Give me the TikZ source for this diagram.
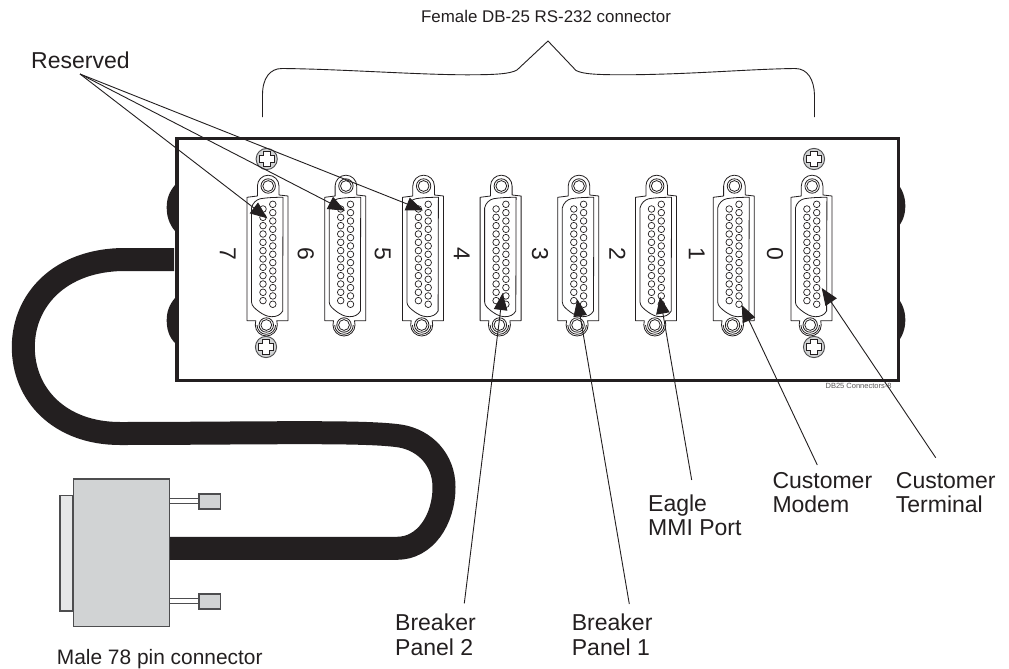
\documentclass[tikz,border=0pt]{standalone}
\usepackage{fontspec}
\setmainfont{Liberation Sans}
\usetikzlibrary{arrows.meta}
\definecolor{ink}{HTML}{231F20}
\definecolor{metal}{HTML}{D1D3D4}
\definecolor{plate}{HTML}{E6E7E8}
\definecolor{edge}{HTML}{4D4D4F}
\tikzset{
  lbl/.style={anchor=base west,inner sep=0pt,text=ink,align=left,font=\fontsize{23}{24.3}\selectfont},
  toplbl/.style={inner sep=0pt,text=ink,font=\fontsize{16.9}{18}\selectfont},
  malelabel/.style={inner sep=0pt,text=ink,font=\fontsize{20.9}{22}\selectfont},
  num/.style={inner sep=0pt,text=ink,rotate=-90,font=\fontsize{23}{24}\selectfont},
  thin line/.style={draw=ink,line width=0.9pt},
  leader/.style={draw=ink,line width=0.9pt,-{Triangle[length=17pt,width=13.5pt]}},
  part/.style={draw=ink,line width=0.8pt},
  pin/.style={draw=ink,line width=0.7pt,fill=white},
  cable/.style={draw=ink,line width=23pt},
  bump/.style={fill=ink},
  metalbox/.style={draw=edge,line width=1.2pt,fill=metal},
  screwhead/.style={draw=edge,line width=0.9pt,fill=metal},
  cross/.style={draw=ink,line width=0.7pt,fill=white}
}
\newcommand{\screwat}[2]{%
  \begin{scope}[shift={(#1,#2)}]
    \draw[screwhead] (0,0) circle[radius=10.6pt];
    \draw[cross] (-3.8,-7.6)--(3.8,-7.6)--(3.8,-3.8)--(7.6,-3.8)--(7.6,3.8)--(3.8,3.8)--(3.8,7.6)--(-3.8,7.6)--(-3.8,3.8)--(-7.6,3.8)--(-7.6,-3.8)--(-3.8,-3.8)--cycle;
  \end{scope}}
\begin{document}
\begin{tikzpicture}[x=1pt,y=-1pt]
\useasboundingbox (0,0) rectangle (1009,669);
\fill[white] (0,0) rectangle (1009,669);

% cable
\draw[cable] (174,259.5) -- (125,259.5) .. controls (60,259.5) and (23.3,300) .. (23.3,347)
  .. controls (23.3,395) and (60,433.5) .. (120,433.5)
  .. controls (180,433.5) and (250,432.7) .. (300,432.7)
  .. controls (340,432.7) and (380,433) .. (400,436)
  .. controls (425,440) and (444,460) .. (444,487)
  .. controls (444,520) and (425,548.3) .. (397,548.3) -- (165,548.3);

% bumps on the box sides
\fill[bump] (175,185) .. controls (169,192) and (166.7,199) .. (166.7,207.5) .. controls (166.7,216) and (169,224) .. (175,231) -- cycle;
\fill[bump] (175,298) .. controls (169,305) and (166.7,312) .. (166.7,320.5) .. controls (166.7,329) and (169,337) .. (175,343) -- cycle;
\fill[bump] (897,183) .. controls (903,190) and (905.3,198) .. (905.3,206) .. controls (905.3,214) and (903,222) .. (897,228) -- cycle;
\fill[bump] (897,297) .. controls (903,304) and (905.3,312) .. (905.3,320) .. controls (905.3,328) and (903,336) .. (897,343) -- cycle;

% enclosure
\node[draw=ink,line width=3.6pt,fill=white,inner sep=0pt,minimum width=721.5pt,minimum height=242pt,anchor=north west] (box) at (175,136.5) {};

% connectors
\foreach \cx in {267.5,345.2,422.9,500.6,578.3,656,733.7,811.4}{
  \begin{scope}[shift={(\cx,0)}]
    \draw[part,fill=white,line join=round] (-20.5,197.3) -- (-20.5,320.7) -- (-11.7,320.7) -- (-12.2,325)
      arc[start angle=180,end angle=360,radius=11pt] -- (9.3,320.7) -- (20.5,320.7) -- (20.5,196) -- (11.5,195) -- (11.5,186)
      arc[start angle=0,end angle=180,radius=10.8pt] -- (-10.1,196) -- cycle;
    \draw[part] (-10.5,325) arc[start angle=180,end angle=360,radius=9.3pt];
    \draw[part] (0.7,186) circle[radius=7.2pt];
    \draw[part] (0.7,186) circle[radius=5.4pt];
    \draw[part] (-1.2,325) circle[radius=7.2pt];
    \draw[part] (-1.2,325) circle[radius=5.4pt];
    \draw[part] (-16,208) .. controls (-15,203) and (-11,199.5) .. (-7,198.7)
      .. controls (0,197.5) and (8,197.3) .. (15.5,197.3)
      -- (15.2,311) .. controls (13,315) and (9,316.8) .. (4,316.7)
      .. controls (-1,316.6) and (-5,314) .. (-8,312)
      .. controls (-12,309) and (-16,306) .. (-16,302) -- cycle;
    \foreach \i in {0,...,12}{ \draw[pin] (5.3,{204.3+\i*8.33}) circle[radius=3.3pt]; }
    \foreach \i in {0,...,11}{ \draw[pin] (-4.5,{209+\i*8.33}) circle[radius=3.3pt]; }
  \end{scope}
}

% screws
\screwat{266.7}{159}
\screwat{266}{347}
\screwat{814}{159}
\screwat{814}{347}

% port numbers
\node[num] (n7) at (227.7,254) {7};
\node[num] (n6) at (305.7,254) {6};
\node[num] (n5) at (382.7,254) {5};
\node[num] (n4) at (461.7,254) {4};
\node[num] (n3) at (540,254) {3};
\node[num] (n2) at (617.3,254) {2};
\node[num] (n1) at (696.7,254) {1};
\node[num] (n0) at (775,254) {0};

% small caption
\node[inner sep=0pt,anchor=base east,text=ink!75,font=\fontsize{7.5}{8}\selectfont] (cap) at (891.7,388) {DB25 Connectors-8};

% brace
\draw[thin line,line join=miter] (262.5,117) -- (262.5,95) .. controls (262.5,78) and (270,68.5) .. (282,68.5)
  .. controls (340,69) and (420,75) .. (470,74.8) .. controls (495,74.7) and (510,74) .. (517,70)
  -- (548,41) -- (576,70.5) .. controls (583,74) and (595,74.8) .. (625,74.8)
  .. controls (690,74.5) and (750,69) .. (795,68.5) .. controls (808,68.5) and (814,80) .. (814.5,95) -- (814.5,117);
\node[toplbl,anchor=base] (female) at (546,23) {Female DB-25 RS-232 connector};

% male 78 pin connector
\draw[metalbox,fill=plate] (60,495.3) rectangle (72.7,611);
\node[metalbox,inner sep=0pt,minimum width=96.3pt,minimum height=147.4pt,anchor=north west] (male) at (72.7,478.3) {};
\node[metalbox,inner sep=0pt,minimum width=21.5pt,minimum height=15pt,anchor=north west] (sq1) at (198.3,493.3) {};
\node[metalbox,inner sep=0pt,minimum width=21.5pt,minimum height=15pt,anchor=north west] (sq2) at (198.3,593.3) {};
\draw[metalbox,fill=white,line width=1pt] (169,498.5) rectangle (198.3,503.5);
\draw[metalbox,fill=white,line width=1pt] (169,598.5) rectangle (198.3,603.5);
\node[malelabel,anchor=base west] (malelbl) at (56.7,664) {Male 78 pin connector};

% labels
\node[lbl] (reserved) at (31,69) {Reserved};
\node[lbl] (bp2) at (395,655) {Breaker\\Panel 2};
\node[lbl] (bp1) at (571.7,655) {Breaker\\Panel 1};
\node[lbl] (eagle) at (648,535.5) {Eagle\\MMI Port};
\node[lbl] (modem) at (772.3,512.5) {Customer\\Modem};
\node[lbl] (term) at (895.7,512.5) {Customer\\Terminal};

% leader ends and tips
\coordinate (resv) at (80,74);
\coordinate (t7) at (267.3,218.3);
\coordinate (t6) at (345,210.7);
\coordinate (t5) at (423,210.3);
\coordinate (t3) at (502.7,293);
\coordinate (t2) at (577.3,299.3);
\coordinate (t1) at (660,296.7);
\coordinate (t0) at (741.7,305);
\coordinate (tt) at (821.7,288);
\coordinate (e3) at (464.3,603.3);
\coordinate (e2) at (629.3,604);
\coordinate (e1) at (691.7,480);
\coordinate (e0) at (817.3,465);
\coordinate (et) at (935.7,457.7);
\draw[leader] (resv) -- (t7);
\draw[leader] (resv) -- (t6);
\draw[leader] (resv) -- (t5);
\draw[leader] (e3) -- (t3);
\draw[leader] (e2) -- (t2);
\draw[leader] (e1) -- (t1);
\draw[leader] (e0) -- (t0);
\draw[leader] (et) -- (tt);
\end{tikzpicture}
\end{document}
